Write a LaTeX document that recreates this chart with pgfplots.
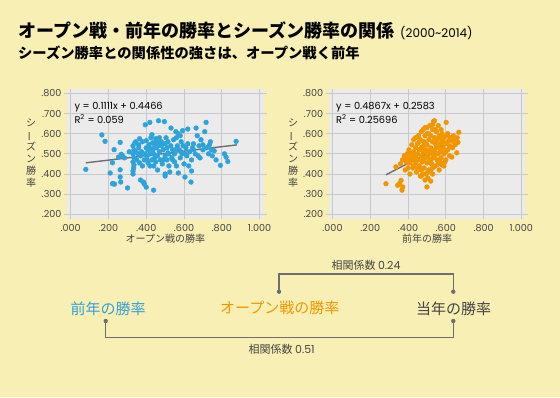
\documentclass[border=0pt]{standalone}
\usepackage{fontspec}
\usepackage{graphicx}
\usepackage{pgfplots}
\pgfplotsset{compat=1.18}
\setmainfont{Noto Sans CJK JP}
\newfontfamily\lat{Poppins}
\definecolor{bgyellow}{HTML}{F8EFB4}
\definecolor{plotbg}{HTML}{EBEBEC}
\definecolor{gridc}{HTML}{C9C9CB}
\definecolor{ptblue}{HTML}{2DA3DC}
\definecolor{ptorange}{HTML}{F29600}
\definecolor{lgray}{HTML}{6E6E6E}
\definecolor{tgray}{HTML}{444444}
\definecolor{txtblue}{HTML}{33A0D8}
\definecolor{txtorange}{HTML}{F29600}

\pgfplotstableread{
x y
0.08 0.423
0.165 0.594
0.182 0.562
0.209 0.405
0.221 0.456
0.221 0.352
0.232 0.350
0.226 0.352
0.230 0.521
0.253 0.484
0.262 0.421
0.262 0.385
0.265 0.360
0.262 0.557
0.274 0.490
0.268 0.498
0.285 0.480
0.301 0.331
0.310 0.510
0.330 0.400
0.330 0.415
0.333 0.430
0.335 0.445
0.330 0.460
0.335 0.480
0.330 0.500
0.335 0.520
0.330 0.540
0.340 0.555
0.345 0.560
0.350 0.470
0.355 0.500
0.360 0.530
0.360 0.545
0.365 0.455
0.370 0.490
0.370 0.370
0.375 0.510
0.380 0.440
0.380 0.560
0.385 0.360
0.390 0.350
0.395 0.644
0.400 0.335
0.390 0.470
0.395 0.500
0.400 0.530
0.400 0.565
0.405 0.490
0.410 0.455
0.410 0.520
0.415 0.545
0.419 0.656
0.420 0.440
0.420 0.500
0.425 0.580
0.430 0.595
0.430 0.470
0.435 0.520
0.435 0.555
0.439 0.320
0.440 0.440
0.440 0.500
0.445 0.540
0.450 0.575
0.450 0.460
0.455 0.530
0.455 0.560
0.460 0.420
0.460 0.490
0.465 0.664
0.465 0.550
0.470 0.580
0.470 0.510
0.475 0.470
0.480 0.540
0.480 0.560
0.485 0.450
0.490 0.520
0.496 0.660
0.500 0.400
0.500 0.390
0.500 0.490
0.500 0.550
0.505 0.580
0.510 0.470
0.510 0.530
0.515 0.560
0.520 0.500
0.520 0.440
0.525 0.410
0.531 0.628
0.530 0.540
0.535 0.480
0.540 0.520
0.545 0.570
0.550 0.460
0.550 0.500
0.557 0.610
0.560 0.440
0.560 0.580
0.565 0.540
0.570 0.600
0.570 0.405
0.575 0.520
0.580 0.590
0.580 0.480
0.585 0.560
0.590 0.500
0.593 0.615
0.595 0.540
0.600 0.450
0.605 0.385
0.610 0.530
0.615 0.490
0.620 0.623
0.620 0.550
0.625 0.440
0.630 0.510
0.637 0.360
0.640 0.470
0.640 0.415
0.645 0.530
0.650 0.550
0.660 0.500
0.664 0.628
0.670 0.590
0.675 0.490
0.680 0.540
0.685 0.480
0.690 0.570
0.700 0.520
0.710 0.610
0.717 0.656
0.720 0.530
0.730 0.500
0.735 0.545
0.745 0.520
0.750 0.490
0.760 0.515
0.770 0.470
0.793 0.443
0.814 0.500
0.823 0.484
0.832 0.462
0.876 0.562
0.345 0.510
0.365 0.575
0.405 0.470
0.425 0.525
0.445 0.480
0.470 0.545
0.490 0.470
0.515 0.505
0.540 0.470
0.560 0.525
0.585 0.510
0.605 0.500
0.650 0.520
0.700 0.545
0.740 0.560
}\datopen

\pgfplotstableread{
x y
0.283 0.352
0.336 0.435
0.345 0.344
0.354 0.352
0.363 0.368
0.372 0.336
0.368 0.320
0.360 0.450
0.370 0.470
0.380 0.490
0.385 0.420
0.390 0.460
0.395 0.500
0.400 0.430
0.400 0.480
0.405 0.520
0.410 0.455
0.410 0.400
0.415 0.500
0.420 0.470
0.420 0.545
0.425 0.430
0.430 0.510
0.430 0.570
0.435 0.480
0.440 0.455
0.440 0.530
0.445 0.410
0.450 0.500
0.450 0.550
0.455 0.470
0.455 0.590
0.460 0.520
0.460 0.440
0.465 0.570
0.465 0.390
0.470 0.490
0.470 0.610
0.475 0.535
0.475 0.460
0.480 0.510
0.480 0.620
0.485 0.430
0.485 0.560
0.490 0.480
0.490 0.590
0.490 0.630
0.495 0.520
0.495 0.400
0.500 0.336
0.500 0.455
0.500 0.545
0.500 0.600
0.505 0.490
0.505 0.380
0.510 0.570
0.510 0.510
0.510 0.420
0.515 0.640
0.515 0.470
0.520 0.530
0.520 0.590
0.520 0.365
0.525 0.500
0.525 0.450
0.530 0.560
0.530 0.620
0.530 0.400
0.535 0.480
0.535 0.660
0.540 0.664
0.540 0.520
0.540 0.580
0.545 0.440
0.545 0.550
0.550 0.500
0.550 0.610
0.555 0.470
0.555 0.570
0.560 0.530
0.560 0.640
0.565 0.460
0.565 0.590
0.570 0.510
0.570 0.550
0.575 0.480
0.575 0.620
0.580 0.445
0.580 0.570
0.585 0.530
0.590 0.500
0.590 0.580
0.595 0.460
0.600 0.550
0.602 0.656
0.605 0.590
0.610 0.520
0.615 0.565
0.620 0.490
0.625 0.580
0.632 0.484
0.635 0.530
0.640 0.560
0.650 0.545
0.658 0.505
0.664 0.557
0.669 0.607
0.660 0.580
0.430 0.440
0.440 0.490
0.450 0.430
0.460 0.560
0.470 0.530
0.480 0.470
0.490 0.545
0.500 0.500
0.510 0.600
0.520 0.470
0.530 0.515
0.540 0.490
0.550 0.535
0.560 0.500
0.570 0.580
0.580 0.520
0.590 0.555
0.600 0.510
0.470 0.420
0.480 0.400
0.520 0.420
0.530 0.430
0.560 0.450
0.580 0.600
0.610 0.600
0.500 0.630
0.530 0.645
0.545 0.620
0.440 0.580
0.420 0.500
0.400 0.455
0.390 0.480
0.410 0.475
0.430 0.490
0.620 0.540
0.630 0.570
0.640 0.590
0.650 0.570
0.655 0.560
0.600 0.470
0.590 0.440
0.570 0.460
0.565 0.420
0.505 0.410
0.490 0.370
0.470 0.390
}\datprev

\pgfplotsset{
  myscatter/.style={
    scale only axis,
    width=196.5pt, height=129.7pt,
    xmin=-0.0196, xmax=1.021,
    ymin=0.177, ymax=0.82,
    xtick={0,0.2,0.4,0.6,0.8,1.0},
    xticklabels={.000,.200,.400,.600,.800,1.000},
    ytick={0.2,0.3,0.4,0.5,0.6,0.7,0.8},
    yticklabels={.200,.300,.400,.500,.600,.700,.800},
    axis background/.style={fill=plotbg},
    axis line style={draw=none},
    grid=major,
    major grid style={gridc, line width=0.7pt},
    tick align=outside,
    major tick length=3pt,
    xtick style={draw=none},
    ytick style={gridc, line width=0.7pt},
    ticklabel style={font=\lat\fontsize{9.6}{10}\selectfont, text=tgray},
    xticklabel style={yshift=1pt},
    yticklabel style={xshift=1pt},
  },
}

\begin{document}
\begin{tikzpicture}[x=1pt,y=1pt]
\fill[bgyellow] (0pt,0pt) rectangle (560pt,397pt);

% Title
\node[anchor=base west, inner sep=0pt] at (18pt,359pt) {\fontsize{18}{20}\selectfont\bfseries オープン戦・前年の勝率とシーズン勝率の関係\hspace{6pt}{\mdseries\lat\fontsize{12}{13}\selectfont(2000\textasciitilde2014)}};
\node[anchor=base west, inner sep=0pt] at (18pt,338pt) {\fontsize{14.3}{16}\selectfont\bfseries シーズン勝率との関係性の強さは、オープン戦く前年};

% Left plot
\begin{axis}[myscatter, at={(67pt,178pt)}, anchor=south west]
\addplot[only marks, color=ptblue, mark=*, mark size=2.4pt, mark options={solid, fill=ptblue, draw=ptblue}] table[x=x,y=y] {\datopen};
\addplot[lgray, line width=1.4pt] coordinates {(0.08,0.4555) (0.88,0.5444)};
\end{axis}

% Right plot
\begin{axis}[myscatter, at={(328.8pt,178pt)}, anchor=south west]
\addplot[only marks, color=ptorange, mark=*, mark size=2.4pt, mark options={solid, fill=ptorange, draw=ptorange}] table[x=x,y=y] {\datprev};
\addplot[lgray, line width=1.4pt] coordinates {(0.283,0.396) (0.669,0.584)};
\end{axis}

% Equations
\node[anchor=west, inner sep=0pt, text=black] at (74.3pt,289.7pt) {\lat\fontsize{9.8}{10}\selectfont y = 0.1111x + 0.4466};
\node[anchor=west, inner sep=0pt, text=black] at (74.3pt,277.9pt) {\lat\fontsize{9.8}{10}\selectfont R\textsuperscript{2} = 0.059};
\node[anchor=west, inner sep=0pt, text=black] at (336pt,289.7pt) {\lat\fontsize{9.8}{10}\selectfont y = 0.4867x + 0.2583};
\node[anchor=west, inner sep=0pt, text=black] at (336pt,277.9pt) {\lat\fontsize{9.8}{10}\selectfont R\textsuperscript{2} = 0.25696};

% Axis labels
\node[text=tgray, inner sep=0pt] at (165.3pt,158pt) {\fontsize{10}{10}\selectfont オープン戦の勝率};
\node[text=tgray, inner sep=0pt] at (427pt,158pt) {\fontsize{10}{10}\selectfont 前年の勝率};
\node[text=tgray, inner sep=0pt, align=center] at (31pt,244pt) {\fontsize{10}{10.4}\selectfont シ\\\rotatebox[origin=c]{90}{ー}\\ズ\\ン\\勝\\率};
\node[text=tgray, inner sep=0pt, align=center] at (293pt,244pt) {\fontsize{10}{10.4}\selectfont シ\\\rotatebox[origin=c]{90}{ー}\\ズ\\ン\\勝\\率};

% Bottom diagram
\node[text=txtblue, inner sep=0pt] at (108pt,88.7pt) {\fontsize{15}{16}\selectfont 前年の勝率};
\node[text=txtorange, inner sep=0pt] at (279.7pt,88.7pt) {\fontsize{15}{16}\selectfont オープン戦の勝率};
\node[text=tgray, inner sep=0pt] at (453.7pt,88.7pt) {\fontsize{15}{16}\selectfont 当年の勝率};

\draw[lgray, line width=1.3pt] (279pt,105.3pt) -- (279pt,123pt) -- (453.3pt,123pt) -- (453.3pt,105.3pt);
\fill[lgray] (279pt,105.3pt) circle (2.2pt);
\fill[lgray] (453.3pt,105.3pt) circle (2.2pt);
\node[text=tgray, inner sep=0pt] at (366pt,132pt) {\fontsize{11}{12}\selectfont 相関係数 {\lat 0.24}};

\draw[lgray, line width=1.3pt] (105.7pt,76pt) -- (105.7pt,59.7pt) -- (453.3pt,59.7pt) -- (453.3pt,76pt);
\fill[lgray] (105.7pt,76pt) circle (2.2pt);
\fill[lgray] (453.3pt,76pt) circle (2.2pt);
\node[text=tgray, inner sep=0pt] at (281.7pt,48pt) {\fontsize{11}{12}\selectfont 相関係数 {\lat 0.51}};
\end{tikzpicture}
\end{document}
